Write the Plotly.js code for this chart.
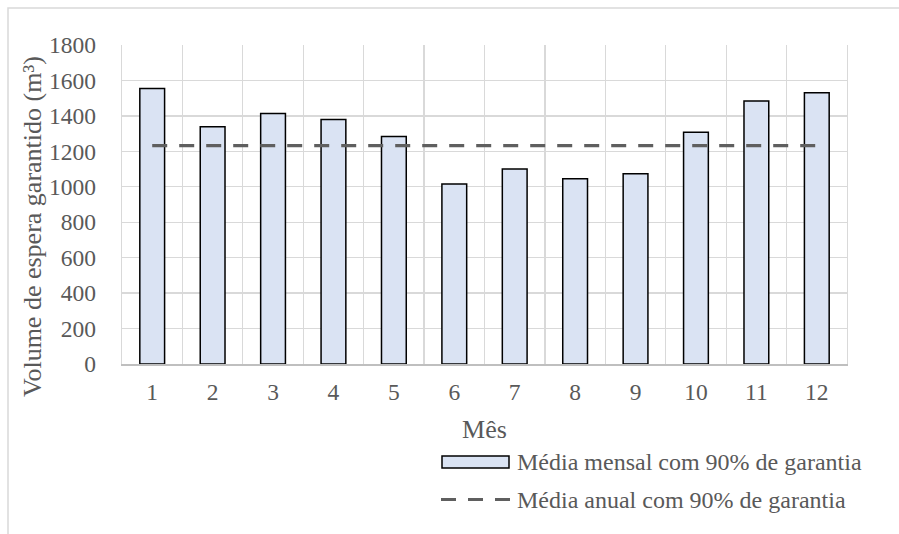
<!DOCTYPE html>
<html>
<head>
<meta charset="utf-8">
<script src="https://cdn.plot.ly/plotly-3.0.1.min.js"></script>
<style>
  html, body { margin: 0; padding: 0; background: #ffffff; }
  #chart { width: 899px; height: 534px; }
</style>
</head>
<body>
<div id="chart"></div>
<script>
// Monthly guaranteed storage volume (m³), 90% reliability
const months = [1, 2, 3, 4, 5, 6, 7, 8, 9, 10, 11, 12];
const monthlyVolume = [1555, 1339, 1413, 1379, 1283, 1016, 1100, 1046, 1074, 1307, 1484, 1531];
// Annual mean with 90% reliability, drawn as a dashed reference line
const annualX = [1, 12];
const annualVolume = [1232, 1232];
const yTicks = [0, 200, 400, 600, 800, 1000, 1200, 1400, 1600, 1800];

const seriesNames = ['Média mensal com 90% de garantia', 'Média anual com 90% de garantia'];
const xTitle = 'Mês';
const yTitle = 'Volume de espera garantido (m³)';

const FONT = '"Liberation Serif", "Times New Roman", serif';
const FS = 23.5;      // tick labels
const FS_TITLE = 26;  // axis titles
const FS_LEG = 24;    // legend entries
const TXT = '#595959';
const GRID = '#d9d9d9';

// plot-area geometry in pixels, used to place legend and y title in paper units
const W = 899, H = 534;
const M = { l: 122, r: 52, t: 45, b: 170 };
const pw = W - M.l - M.r, ph = H - M.t - M.b;
const px = x => (x - M.l) / pw;
const py = y => (H - M.b - y) / ph;

const traces = [
  {
    type: 'bar',
    x: months,
    y: monthlyVolume,
    name: seriesNames[0],
    width: 0.41,
    marker: { color: '#dae3f3', line: { color: '#000000', width: 1.5 } },
    hoverinfo: 'x+y',
    showlegend: false
  },
  {
    type: 'scatter',
    mode: 'lines',
    x: annualX,
    y: annualVolume,
    name: seriesNames[1],
    line: { color: '#5f5f5f', width: 3.2, dash: '15px,12px' },
    showlegend: false
  }
];

const shapes = [
  // chart frame
  { type: 'rect', xref: 'paper', yref: 'paper', x0: px(8), x1: px(920), y0: py(560), y1: py(8),
    line: { color: '#d9d9d9', width: 1.5 }, fillcolor: 'rgba(0,0,0,0)', layer: 'below' },
  // legend key: bars
  { type: 'rect', xref: 'paper', yref: 'paper', x0: px(442), x1: px(509), y0: py(468), y1: py(456),
    line: { color: '#000000', width: 1.5 }, fillcolor: '#dae3f3' },
  // legend key: dashed line
  { type: 'line', xref: 'paper', yref: 'paper', x0: px(441), x1: px(510), y0: py(499.5), y1: py(499.5),
    line: { color: '#5f5f5f', width: 3.2, dash: '15px,12px' } }
];

const annotations = [
  // y-axis title
  { xref: 'paper', yref: 'paper', x: px(32), y: py(227), xanchor: 'center', yanchor: 'middle',
    textangle: -90, text: yTitle, showarrow: false, font: { family: FONT, size: FS_TITLE, color: TXT } },
  // legend entries
  { xref: 'paper', yref: 'paper', x: px(515), y: py(462), xanchor: 'left', yanchor: 'middle',
    text: seriesNames[0], showarrow: false, font: { family: FONT, size: FS_LEG, color: TXT } },
  { xref: 'paper', yref: 'paper', x: px(515), y: py(500), xanchor: 'left', yanchor: 'middle',
    text: seriesNames[1], showarrow: false, font: { family: FONT, size: FS_LEG, color: TXT } }
];

const layout = {
  width: W,
  height: H,
  margin: M,
  paper_bgcolor: '#ffffff',
  plot_bgcolor: '#ffffff',
  showlegend: false,
  font: { family: FONT, size: FS, color: TXT },
  xaxis: {
    range: [0.5, 12.5],
    tickvals: months,
    ticktext: months.map(String),
    showgrid: false,
    zeroline: false,
    showline: true,
    linecolor: '#bfbfbf',
    linewidth: 1.5,
    ticks: '',
    ticklabelstandoff: 6,
    minor: { tick0: 0.5, dtick: 1, showgrid: true, gridcolor: GRID, gridwidth: 1.3, ticks: '' },
    tickfont: { family: FONT, size: FS, color: TXT },
    title: { text: xTitle, font: { family: FONT, size: FS_TITLE, color: TXT }, standoff: 16 }
  },
  yaxis: {
    range: [0, 1800],
    tickvals: yTicks,
    showgrid: true,
    gridcolor: GRID,
    gridwidth: 1.3,
    zeroline: false,
    showline: true,
    mirror: true,
    linecolor: GRID,
    linewidth: 1.3,
    ticks: '',
    ticklabelstandoff: 20,
    tickfont: { family: FONT, size: FS, color: TXT }
  },
  shapes: shapes,
  annotations: annotations,
  bargap: 0.59
};

Plotly.newPlot('chart', traces, layout, { displayModeBar: false, staticPlot: true });
</script>
</body>
</html>
